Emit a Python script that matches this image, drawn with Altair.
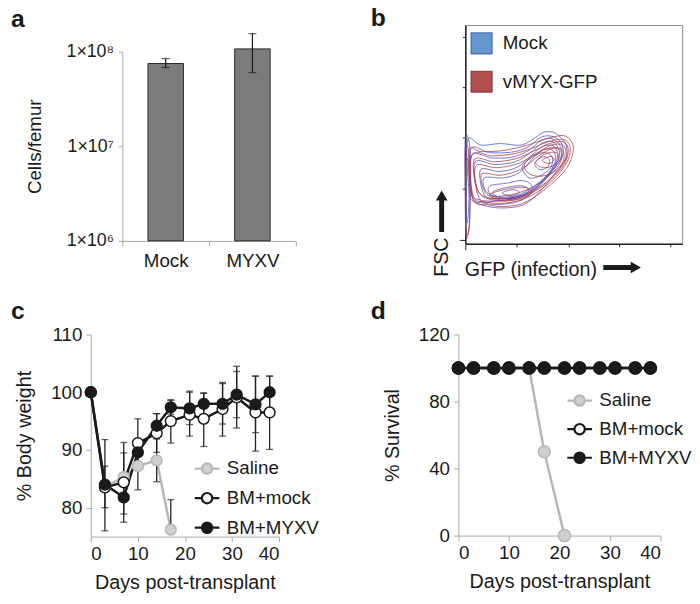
import altair as alt
import pandas as pd
import numpy as np

FONT = "Liberation Sans"
BLACK = "#1a1a1a"
AXGRAY = "#a8a8a8"

# ---------------- panel a ----------------
a_groups = ["Mock", "MYXV"]
a_means = [7.5e7, 1.07e8]
a_lo = [6.8e7, 6.0e7]
a_hi = [8.45e7, 1.55e8]
a_ticks = [1e6, 1e7, 1e8]

# ---------------- panel b (traced contour loops, log10 units) ----------------
b_samples = ["Mock", "vMYX-GFP"]
b_line_colors = ["#4a4fc6", "#b3393a"]
b_fill_colors = ["#4b86c6", "#a53030"]
b_border_colors = ["#3461a3", "#7e2424"]

blue_loops = [
    [(0.04,1.85),(0.29,1.76),(0.65,1.79),(1.02,1.76),(1.26,1.88),(1.44,2.00),(1.63,2.00),(1.75,1.91),(1.86,1.76),(1.86,1.51),(1.68,1.27),(1.38,0.90),(1.08,0.65),(0.71,0.59),(0.41,0.62),(0.16,0.71),(0.07,0.90)],
    [(0.10,1.68),(0.45,1.62),(0.85,1.63),(1.15,1.72),(1.38,1.90),(1.58,1.93),(1.76,1.82),(1.80,1.58),(1.62,1.30),(1.35,0.98),(1.05,0.74),(0.70,0.66),(0.35,0.68),(0.12,0.82)],
    [(0.18,1.45),(0.55,1.40),(0.92,1.45),(1.20,1.62),(1.42,1.80),(1.62,1.82),(1.74,1.62),(1.65,1.36),(1.42,1.08),(1.12,0.84),(0.78,0.74),(0.42,0.76),(0.22,0.95)],
    [(0.35,1.15),(0.70,1.15),(1.00,1.25),(1.25,1.52),(1.45,1.68),(1.62,1.66),(1.66,1.45),(1.50,1.20),(1.25,0.98),(0.95,0.82),(0.60,0.80),(0.38,0.90)],
    [(1.05,1.35),(1.25,1.55),(1.45,1.62),(1.60,1.55),(1.58,1.35),(1.40,1.20),(1.18,1.15)],
    [(1.28,1.42),(1.42,1.54),(1.55,1.50),(1.52,1.36),(1.38,1.30)],
    [(0.50,0.88),(0.80,0.98),(1.05,1.00),(1.18,0.92),(1.00,0.80),(0.70,0.77)],
    [(0.68,0.87),(0.88,0.93),(1.00,0.88),(0.85,0.82)],
    [(0.00,1.88),(0.07,1.82),(0.10,1.40),(0.09,0.80),(0.08,0.30),(0.05,0.12),(0.01,0.15),(0.00,0.80)],
    [(0.01,1.50),(0.06,1.40),(0.07,0.90),(0.05,0.40),(0.02,0.35),(0.01,0.90)],
    [(0.12,1.57),(0.50,1.52),(0.88,1.54),(1.18,1.67),(1.40,1.85),(1.60,1.88),(1.76,1.72),(1.74,1.47),(1.52,1.19),(1.24,0.91),(0.92,0.77),(0.56,0.72),(0.26,0.74),(0.12,0.88)],
    [(0.28,1.30),(0.62,1.27),(0.96,1.35),(1.22,1.57),(1.44,1.74),(1.64,1.74),(1.70,1.53),(1.58,1.28),(1.34,1.02),(1.04,0.83),(0.68,0.77),(0.36,0.82)],
    [(0.45,1.00),(0.75,1.05),(1.05,1.10),(1.22,1.02),(1.20,0.88),(0.95,0.78),(0.62,0.77),(0.45,0.86)],
]
red_loops = [
    [(0.07,1.66),(0.29,1.64),(0.71,1.66),(1.14,1.76),(1.50,1.88),(1.81,1.94),(1.96,1.82),(1.99,1.64),(1.87,1.33),(1.57,1.02),(1.14,0.71),(0.77,0.62),(0.41,0.65),(0.13,0.77)],
    [(0.12,1.58),(0.50,1.56),(0.90,1.60),(1.22,1.70),(1.52,1.82),(1.80,1.87),(1.93,1.74),(1.90,1.50),(1.72,1.22),(1.42,0.95),(1.08,0.76),(0.72,0.68),(0.38,0.70),(0.14,0.82)],
    [(0.20,1.38),(0.58,1.34),(0.98,1.42),(1.30,1.60),(1.58,1.76),(1.80,1.76),(1.86,1.56),(1.74,1.32),(1.48,1.06),(1.15,0.86),(0.78,0.77),(0.42,0.78),(0.22,0.94)],
    [(1.10,1.42),(1.35,1.62),(1.62,1.72),(1.80,1.66),(1.80,1.45),(1.62,1.25),(1.35,1.18),(1.15,1.25)],
    [(1.30,1.45),(1.48,1.60),(1.68,1.62),(1.72,1.48),(1.58,1.36),(1.40,1.35)],
    [(1.42,1.47),(1.55,1.55),(1.64,1.50),(1.56,1.42)],
    [(0.45,0.84),(0.80,0.95),(1.10,0.97),(1.22,0.88),(1.02,0.76),(0.65,0.74)],
    [(0.00,1.72),(0.06,1.65),(0.09,1.10),(0.08,0.45),(0.05,0.08),(0.01,0.10),(0.00,0.80)],
    [(0.16,1.48),(0.54,1.45),(0.94,1.51),(1.26,1.65),(1.55,1.79),(1.82,1.82),(1.90,1.65),(1.82,1.40),(1.60,1.14),(1.28,0.90),(0.92,0.74),(0.56,0.72),(0.26,0.76)],
    [(0.30,1.22),(0.66,1.20),(1.04,1.32),(1.34,1.55),(1.62,1.70),(1.78,1.62),(1.72,1.38),(1.46,1.12),(1.12,0.92),(0.74,0.82),(0.40,0.84)],
]
b_major = [0, 1, 2, 3, 4]
b_minor = [round(d + np.log10(k), 4) for d in range(4) for k in range(2, 10)]

# ---------------- panel c ----------------
groups = ["Saline", "BM+mock", "BM+MYXV"]
line_colors = ["#b7b7b7", BLACK, BLACK]
fill_colors = ["#d0d0d0", "#ffffff", BLACK]
days = [0, 3, 7, 10, 14, 17, 21, 24, 28, 31, 35, 38]
saline_days = [0, 3, 7, 10, 14, 17]
c_saline = [100.0, 83.6, 85.3, 87.2, 88.2, 76.2]
c_mock = [100.0, 83.5, 84.4, 91.2, 92.9, 95.0, 96.1, 95.4, 97.1, 99.1, 96.5, 96.5]
c_myxv = [100.0, 84.0, 81.8, 89.6, 94.2, 97.4, 97.2, 98.0, 98.0, 99.6, 97.9, 100.0]
c_saline_lo = [None, None, 81.2, 83.1, 84.5, 76.2]
c_saline_hi = [None, None, 89.5, 91.3, 91.9, 81.4]
c_mock_lo = [None, 80.0, 77.5, 87.0, 89.6, 91.2, 92.4, 90.6, 92.4, 93.8, 89.8, 90.1]
c_mock_hi = [None, 87.2, 91.3, 95.4, 96.3, 98.7, 100.0, 99.9, 101.7, 104.5, 102.8, 102.8]
c_myxv_lo = [None, 76.0, 78.9, 87.5, 92.1, 96.2, 94.4, 96.2, 94.5, 95.6, 93.0, 97.2]
c_myxv_hi = [None, 91.8, 84.8, 91.7, 96.3, 98.6, 100.2, 99.8, 101.5, 103.6, 102.8, 102.8]

# ---------------- panel d ----------------
d_saline_days = [0, 3, 7, 10, 14, 17, 21]
d_saline = [100, 100, 100, 100, 100, 50, 0]
d_mock = [100] * 12
d_myxv = [100] * 12

# ================= build =================
def letter(ch, dx, dy):
    return alt.Chart(pd.DataFrame({"t": [ch]})).mark_text(
        align="left", baseline="alphabetic", fontSize=25, fontWeight="bold",
        font=FONT, color=BLACK).encode(text="t:N", x=alt.value(dx), y=alt.value(dy))

# ---- a : plot origin shared with c (x) and b (y) ----
df_a = pd.DataFrame({"g": a_groups, "m": a_means, "lo": a_lo, "hi": a_hi})
xa_scale = alt.Scale(paddingInner=0, paddingOuter=0, range=[32, 208])
xa = alt.X("g:N", sort=a_groups, scale=xa_scale,
           axis=alt.Axis(title=None, labelAngle=0, labelFontSize=19, tickBand="extent",
                         domainColor=AXGRAY, tickColor=AXGRAY, tickSize=5, labelPadding=6))
ya = alt.Y("m:Q", scale=alt.Scale(type="log", domain=[1e6, 1e8], nice=False, range=[219, 27]),
           axis=alt.Axis(values=a_ticks, title="Cells/femur", titleFontSize=19, offset=-32,
                         labelExpr="datum.value > 5e7 ? '1×10⁸' : (datum.value > 5e6 ? '1×10⁷' : '1×10⁶')",
                         labelFontSize=18, domainColor=AXGRAY, tickColor=AXGRAY, tickSize=4,
                         labelPadding=5, titlePadding=22))
bars = alt.Chart(df_a).mark_bar(size=36, color="#7b7b7b", stroke="#2b2b2b", strokeWidth=1).encode(
    x=xa, y=ya, y2=alt.datum(1e6))
err_a = alt.Chart(df_a).mark_rule(color=BLACK, strokeWidth=1.2).encode(
    x=alt.X("g:N", sort=a_groups), y="lo:Q", y2="hi:Q")
cap_a1 = alt.Chart(df_a).mark_tick(color=BLACK, thickness=1.2, size=8, orient="horizontal").encode(
    x=alt.X("g:N", sort=a_groups), y="lo:Q")
cap_a2 = alt.Chart(df_a).mark_tick(color=BLACK, thickness=1.2, size=8, orient="horizontal").encode(
    x=alt.X("g:N", sort=a_groups), y="hi:Q")
chart_a = alt.layer(bars, err_a, cap_a1, cap_a2, letter("a", -81, 2)).properties(width=208, height=219)

# ---- b ----
rows = []
lid = 0
for sample, lc, loops in (("Mock", b_line_colors[0], blue_loops), ("vMYX-GFP", b_line_colors[1], red_loops)):
    for loop in loops:
        for i, (xx, yy) in enumerate(loop):
            rows.append({"loop": lid, "sample": sample, "lc": lc, "i": i, "x": xx, "y": yy})
        lid += 1
df_b = pd.DataFrame(rows)
ticksize_cond = {"condition": {"test": "datum.value % 1 === 0", "value": 6}, "value": 3}
axb_x = alt.Axis(values=b_major + b_minor, labels=False, grid=False, title="GFP (infection)",
                 titleFontSize=20, titleAlign="left", titleBaseline="alphabetic",
                 titleX=-1, titleY=32, tickSize=ticksize_cond, tickColor="#222",
                 domainColor="#222", domainWidth=1.5)
axb_y = alt.Axis(values=b_major + b_minor, labels=False, grid=False, title="FSC",
                 titleFontSize=20, titleAngle=270, titleAlign="left", titleBaseline="middle",
                 titleX=-24, titleY=255, tickSize=ticksize_cond, tickColor="#222",
                 domainColor="#222", domainWidth=1.5)
xb = alt.X("x:Q", scale=alt.Scale(domain=[0, 4], nice=False, zero=False), axis=axb_x)
yb = alt.Y("y:Q", scale=alt.Scale(domain=[-0.08, 4.0], nice=False, zero=False), axis=axb_y)
leg_b = alt.Legend(title=None, orient="none", legendX=5, legendY=7, symbolType="square",
                   symbolSize=441, symbolStrokeWidth=1.5, labelFontSize=19, labelColor=BLACK,
                   rowPadding=12, labelOffset=10, padding=0, symbolOpacity=1)
contours = alt.Chart(df_b).mark_line(interpolate="cardinal-closed", strokeWidth=0.9, opacity=0.85).encode(
    x=xb, y=yb, detail="loop:N", order="i:Q", stroke=alt.Stroke("lc:N", scale=None))
leg_layer = alt.Chart(df_b).transform_filter("false").mark_square(filled=True).encode(
    x="x:Q", y="y:Q",
    fill=alt.Fill("sample:N", scale=alt.Scale(domain=b_samples, range=b_fill_colors), legend=leg_b),
    stroke=alt.Stroke("sample:N", scale=alt.Scale(domain=b_samples, range=b_border_colors), legend=leg_b))
one = pd.DataFrame({"k": [0]})
arr_x1 = alt.Chart(one).mark_rule(strokeWidth=5, color=BLACK, strokeCap="butt").encode(
    x=alt.value(140), x2=alt.value(170), y=alt.value(246))
arr_x2 = alt.Chart(one).mark_point(shape="triangle-right", filled=True, size=140, color=BLACK, opacity=1).encode(
    x=alt.value(173), y=alt.value(246))
arr_y1 = alt.Chart(one).mark_rule(strokeWidth=5, color=BLACK, strokeCap="butt").encode(
    x=alt.value(-24), y=alt.value(210), y2=alt.value(177))
arr_y2 = alt.Chart(one).mark_point(shape="triangle-up", filled=True, size=140, color=BLACK, opacity=1).encode(
    x=alt.value(-24), y=alt.value(173))
chart_b = alt.layer(contours, leg_layer, arr_x1, arr_x2, arr_y1, arr_y2, letter("b", -96, 1)).properties(
    width=220, height=222, view=alt.ViewBackground(stroke="#8c8c8c", strokeWidth=1))

# ---- c / d shared ----
SYM = "M-1,0L-0.42,0M0.42,0A0.42,0.42,0,1,1,-0.42,0A0.42,0.42,0,1,1,0.42,0ZM0.42,0L1,0"

def series_df(pairs):
    out = []
    for g, ds, vs in pairs:
        k = groups.index(g)
        for dd, vv in zip(ds, vs):
            out.append({"group": g, "day": dd, "val": vv, "go": k, "lc": line_colors[k]})
    return pd.DataFrame(out)

def time_panel(df, df_err, ydom, yvals, ylabexpr, ytitle, leg_x, leg_y, row_pad, psize, tpad,
               xrange=None, yoff=0):
    xsc = alt.Scale(domain=[0, 40], nice=False)
    if xrange is not None:
        xsc = alt.Scale(domain=[0, 40], nice=False, range=xrange)
    xs = alt.X("day:Q", scale=xsc,
               axis=alt.Axis(values=[0, 10, 20, 30, 40], title="Days post-transplant", titleFontSize=20,
                             labelFontSize=19, tickSize=5, domainColor=AXGRAY, tickColor=AXGRAY,
                             labelPadding=3, titlePadding=10, labelOverlap=False))
    ys = alt.Y("val:Q", scale=alt.Scale(domain=ydom, nice=False, zero=False),
               axis=alt.Axis(values=yvals, labelExpr=ylabexpr, title=ytitle, titleFontSize=20,
                             labelFontSize=19, tickSize=5, domainColor=AXGRAY, tickColor=AXGRAY,
                             labelPadding=4, titlePadding=tpad, labelOverlap=False, offset=yoff))
    leg = alt.Legend(title=None, orient="none", legendX=leg_x, legendY=leg_y, symbolType=SYM,
                     symbolSize=625, symbolStrokeWidth=2.2, labelFontSize=19, labelColor=BLACK,
                     rowPadding=row_pad, labelOffset=6, padding=0, symbolOpacity=1)
    layers = []
    if df_err is not None:
        layers.append(alt.Chart(df_err).mark_rule(color="#222", strokeWidth=1.3).encode(
            x=alt.X("day:Q"), y=alt.Y("lo:Q"), y2="hi:Q"))
        layers.append(alt.Chart(df_err).mark_tick(color="#222", thickness=1.3, size=7, orient="horizontal").encode(
            x="day:Q", y="lo:Q"))
        layers.append(alt.Chart(df_err).mark_tick(color="#222", thickness=1.3, size=7, orient="horizontal").encode(
            x="day:Q", y="hi:Q"))
    lines = alt.Chart(df).mark_line(strokeWidth=2.5).encode(
        x=xs, y=ys, detail="group:N", stroke=alt.Stroke("lc:N", scale=None))
    pts = alt.Chart(df).mark_point(filled=True, size=psize, strokeWidth=1.5, opacity=1).encode(
        x="day:Q", y="val:Q",
        fill=alt.Fill("group:N", scale=alt.Scale(domain=groups, range=fill_colors), legend=leg),
        stroke=alt.Stroke("group:N", scale=alt.Scale(domain=groups, range=line_colors), legend=leg),
        order=alt.Order("go:Q"))
    return [lines] + layers + [pts]

df_c = series_df([("Saline", saline_days, c_saline), ("BM+mock", days, c_mock), ("BM+MYXV", days, c_myxv)])
erows = []
for g, ds, los, his in (("Saline", saline_days, c_saline_lo, c_saline_hi),
                        ("BM+mock", days, c_mock_lo, c_mock_hi),
                        ("BM+MYXV", days, c_myxv_lo, c_myxv_hi)):
    for dd, lo, hi in zip(ds, los, his):
        if lo is not None:
            erows.append({"group": g, "day": dd, "lo": lo, "hi": hi})
df_err_c = pd.DataFrame(erows)

c_layers = time_panel(df_c, df_err_c, [75, 110], [80, 85, 90, 95, 100, 105, 110],
                      "datum.value % 10 === 0 ? datum.label : ''", "% Body weight",
                      104, 122, 6, 120, 16)
chart_c = alt.layer(*c_layers, letter("c", -81, -16)).properties(width=191, height=205)

df_d = series_df([("Saline", d_saline_days, d_saline), ("BM+mock", days, d_mock), ("BM+MYXV", days, d_myxv)])
d_layers = time_panel(df_d, None, [0, 120], [0, 20, 40, 60, 80, 100, 120],
                      "datum.label", "% Survival", 102, 53, 5, 150, 16,
                      xrange=[-7, 198], yoff=7)
chart_d = alt.layer(*d_layers, letter("d", -96, -16)).properties(width=198, height=204)

chart = alt.concat(chart_a, chart_b, chart_c, chart_d, columns=2,
                   spacing={"row": 19, "column": 51}).resolve_scale(
    fill="independent", stroke="independent").resolve_legend(
    fill="independent", stroke="independent").properties(
    padding={"left": 3, "top": -7, "right": 0, "bottom": 0}).configure(
    font=FONT).configure_view(strokeWidth=0).configure_axis(
    labelFont=FONT, titleFont=FONT, labelColor=BLACK, titleColor=BLACK,
    titleFontWeight="normal", grid=False).configure_legend(labelFont=FONT)

chart.save("out.html", embed_options={"renderer": "svg", "actions": False})
